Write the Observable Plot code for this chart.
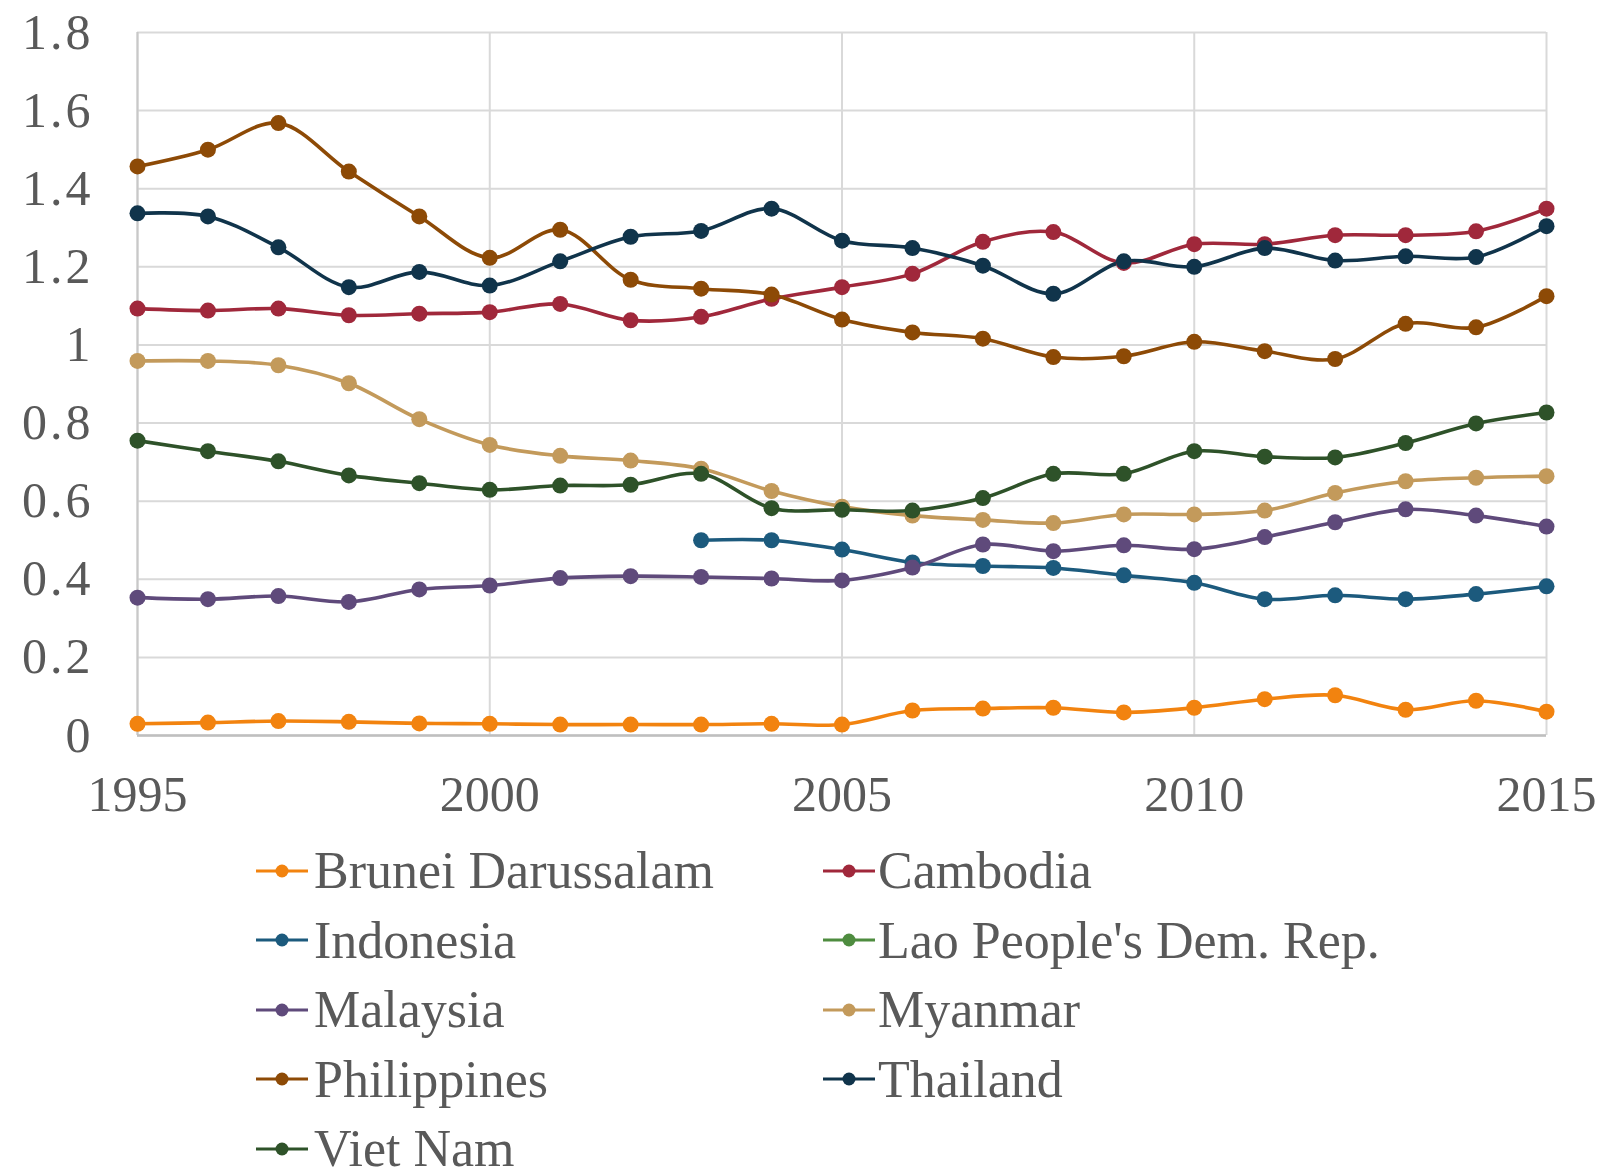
<!DOCTYPE html>
<html>
<head>
<meta charset="utf-8">
<script src="https://cdn.jsdelivr.net/npm/d3@7"></script>
<script src="https://cdn.jsdelivr.net/npm/@observablehq/plot@0.6"></script>
<style>
  html, body { margin: 0; padding: 0; background: #fff; }
  #chart { position: relative; width: 1603px; height: 1170px; overflow: hidden; }
  #legend { position: absolute; left: 0; top: 836px; width: 1603px; }
  .item { position: absolute; display: flex; align-items: center; height: 69.5px;
          font-family: "Liberation Serif", serif; font-size: 52px; color: #595959; white-space: nowrap; }
  .item svg { flex: none; }
</style>
</head>
<body>
<div id="chart"><div id="legend"></div></div>
<script>
// Years on the x axis
const years = [1995, 1996, 1997, 1998, 1999, 2000, 2001, 2002, 2003, 2004, 2005,
               2006, 2007, 2008, 2009, 2010, 2011, 2012, 2013, 2014, 2015];
const xTicks = [1995, 2000, 2005, 2010, 2015];
const yTicks = [0, 0.2, 0.4, 0.6, 0.8, 1, 1.2, 1.4, 1.6, 1.8];

const countries = ["Brunei Darussalam", "Cambodia", "Indonesia", "Lao People's Dem. Rep.",
                   "Malaysia", "Myanmar", "Philippines", "Thailand", "Viet Nam"];
const colors = ["#f2830f", "#a0283b", "#1c5a7d", "#4e8c3f",
                "#5f4a7b", "#c39a5b", "#8d4a06", "#10344b", "#2e5229"];

// One value per year, null where there is no observation
const brunei      = [0.030, 0.033, 0.037, 0.035, 0.031, 0.030, 0.028, 0.028, 0.028, 0.030, 0.028,
                     0.064, 0.069, 0.071, 0.059, 0.071, 0.093, 0.103, 0.066, 0.089, 0.061];
const cambodia    = [1.093, 1.088, 1.093, 1.076, 1.080, 1.084, 1.105, 1.063, 1.072, 1.118, 1.148,
                     1.182, 1.264, 1.289, 1.210, 1.258, 1.258, 1.281, 1.281, 1.291, 1.349];
const indonesia   = [null, null, null, null, null, null, null, null, 0.500, 0.500, 0.476,
                     0.443, 0.434, 0.429, 0.410, 0.391, 0.349, 0.359, 0.349, 0.362, 0.382];
const lao         = [null, null, null, null, null, null, null, null, null, null, null,
                     null, null, null, null, null, null, null, null, null, null];
const malaysia    = [0.353, 0.349, 0.357, 0.342, 0.374, 0.384, 0.403, 0.408, 0.406, 0.402, 0.397,
                     0.430, 0.489, 0.472, 0.487, 0.477, 0.508, 0.546, 0.579, 0.563, 0.535];
const myanmar     = [0.959, 0.959, 0.948, 0.902, 0.810, 0.744, 0.716, 0.704, 0.683, 0.626, 0.586,
                     0.563, 0.552, 0.544, 0.566, 0.566, 0.576, 0.621, 0.651, 0.660, 0.664];
const philippines = [1.457, 1.500, 1.568, 1.444, 1.329, 1.223, 1.295, 1.167, 1.144, 1.129, 1.065,
                     1.032, 1.016, 0.969, 0.971, 1.008, 0.984, 0.964, 1.054, 1.045, 1.125];
const thailand    = [1.337, 1.329, 1.250, 1.148, 1.187, 1.152, 1.214, 1.277, 1.292, 1.349, 1.267,
                     1.248, 1.203, 1.131, 1.214, 1.200, 1.248, 1.216, 1.227, 1.225, 1.304];
const vietnam     = [0.755, 0.728, 0.702, 0.666, 0.646, 0.629, 0.640, 0.642, 0.670, 0.582, 0.578,
                     0.576, 0.608, 0.670, 0.670, 0.728, 0.714, 0.712, 0.749, 0.799, 0.827];

const series = [brunei, cambodia, indonesia, lao, malaysia, myanmar, philippines, thailand, vietnam];

// Long table: one row per country and year with a value
const rows = [];
series.forEach((values, i) => {
  values.forEach((v, j) => {
    if (v != null) rows.push({country: countries[i], year: years[j], value: v});
  });
});

const grid = "#d9d9d9";
const ink = "#595959";

const plot = Plot.plot({
  width: 1603,
  height: 830,
  marginLeft: 137,
  marginRight: 57,
  marginTop: 32,
  marginBottom: 95,
  style: {fontFamily: "Liberation Serif, serif", fontSize: "50px", color: ink, background: "#fff"},
  x: {domain: [1995, 2015], ticks: xTicks, tickFormat: d => String(d), label: null},
  y: {domain: [0, 1.8], ticks: yTicks, tickFormat: d => String(+d.toFixed(1)), label: null},
  color: {domain: countries, range: colors},
  marks: [
    Plot.gridY(yTicks, {stroke: grid, strokeOpacity: 1, strokeWidth: 2}),
    Plot.gridX(xTicks, {stroke: grid, strokeOpacity: 1, strokeWidth: 2}),
    Plot.ruleX([1995], {stroke: "#c8c8c8", strokeWidth: 2}),
    Plot.ruleY([0], {stroke: "#bfbfbf", strokeWidth: 2.5}),
    Plot.axisY(yTicks, {tickSize: 0, tickPadding: 44, fill: ink, fontSize: 50,
                        tickFormat: d => String(+d.toFixed(1))}),
    Plot.axisX(xTicks, {tickSize: 0, tickPadding: 40, fill: ink, fontSize: 50,
                        tickFormat: d => String(d)}),
    Plot.line(rows, {x: "year", y: "value", z: "country", stroke: "country",
                     curve: "catmull-rom", strokeWidth: 3.6}),
    Plot.dot(rows, {x: "year", y: "value", fill: "country", r: 8})
  ]
});
document.getElementById("chart").prepend(plot);

// Widen the y tick labels a little
d3.select(plot).selectAll("[aria-label='y-axis tick label'] text").style("letter-spacing", "3px");

// Legend in two columns below the plot
const legend = document.getElementById("legend");
const colLeft = [256, 823];
const gap = [6, 3];
countries.forEach((name, i) => {
  const item = document.createElement("div");
  item.className = "item";
  item.style.left = colLeft[i % 2] + "px";
  item.style.top = (Math.floor(i / 2) * 69.5) + "px";
  const sw = d3.create("svg").attr("width", 52).attr("height", 20)
    .style("margin-right", gap[i % 2] + "px");
  sw.append("line").attr("x1", 0).attr("x2", 52).attr("y1", 10).attr("y2", 10)
    .attr("stroke", colors[i]).attr("stroke-width", 3.2);
  sw.append("circle").attr("cx", 26).attr("cy", 10).attr("r", 6.5).attr("fill", colors[i]);
  item.appendChild(sw.node());
  const label = document.createElement("span");
  label.textContent = name;
  item.appendChild(label);
  legend.appendChild(item);
});
</script>
</body>
</html>
